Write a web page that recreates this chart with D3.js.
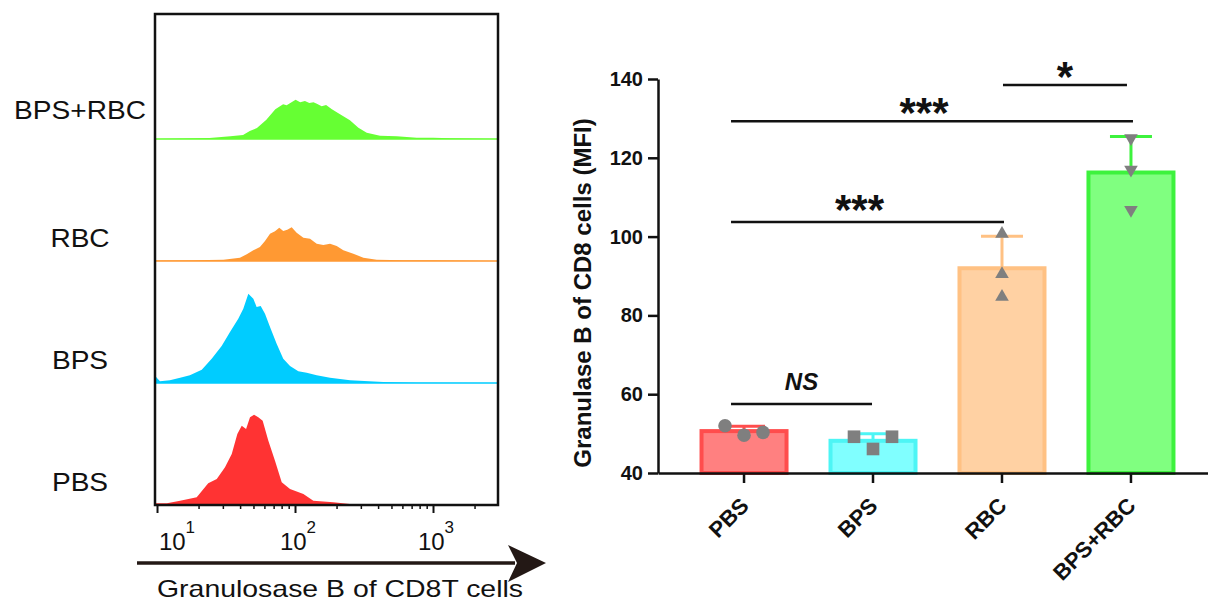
<!DOCTYPE html>
<html>
<head>
<meta charset="utf-8">
<script src="https://cdn.jsdelivr.net/npm/d3@7"></script>
<style>
  body { margin: 0; background: #fff; }
  svg { display: block; font-family: "Liberation Sans", Arial, sans-serif; }
</style>
</head>
<body>
<svg id="chart" width="1208" height="603"></svg>
<script>
// ---- left panel: flow histograms (intensity, relative count) ----
const histGroups = ["BPS+RBC", "RBC", "BPS", "PBS"];
const histColors = ["#66ff33", "#ff9933", "#00ccff", "#ff3333"];

const comboInt = [9.7, 24, 34, 42, 47, 53, 62, 72, 82, 87, 95, 101, 109, 118, 127, 136, 144, 156, 168, 185, 212, 250, 288, 331, 413, 546, 762, 1005, 1327, 2897];
const comboCnt = [0, 1, 2.7, 4, 8, 11, 19.3, 29.7, 34.7, 33.7, 37, 39.3, 36.7, 38, 36, 36.7, 35.3, 32.7, 34, 29.7, 24.7, 18.7, 11.3, 6.3, 3.3, 2.7, 1.3, 1.3, 0.7, 0];

const rbcInt = [9.7, 18.3, 30.3, 39.9, 44.7, 49.9, 55.7, 60.6, 65.9, 71.6, 76.9, 82.2, 87.9, 94.6, 102.8, 115, 128.5, 143.6, 160.4, 179.4, 200.5, 224, 264.7, 312.8, 390.6, 610, 1005, 2897];
const rbcCnt = [0.5, 0.7, 1.3, 3.3, 6.7, 10.7, 14, 20, 27.3, 29.7, 33.3, 30, 31.3, 33.7, 28.3, 23.3, 22.3, 17.3, 16, 17.3, 15, 10.7, 7.3, 3.3, 1.3, 0.7, 0.7, 0];

const bpsInt = [9.7, 10.5, 12.4, 14.7, 17.3, 21.1, 24.9, 29.4, 33.8, 38.8, 42.2, 45.9, 49.9, 52.7, 56.4, 60.6, 65.9, 73.6, 82.2, 92, 105.7, 121.6, 143.6, 179.4, 250.6, 436, 762, 2897];
const bpsCnt = [7, 1.7, 2.7, 5.3, 7.7, 13.3, 24.3, 37, 51, 64.3, 74.3, 89.3, 84.3, 76, 77, 69.3, 56, 39.3, 24.3, 17, 11.7, 10.3, 7.7, 5.3, 2.7, 1, 0.3, 0];

const pbsInt = [9.7, 11.8, 14.7, 19.4, 23.5, 27.1, 31.1, 34.8, 38.2, 41.1, 44.2, 47.2, 50.5, 54.2, 58.3, 64.1, 71.6, 80.1, 92, 115, 135.8, 189.7, 280, 2897];
const pbsCnt = [1.7, 1.7, 4.3, 7.7, 21.7, 26, 37.7, 51, 71, 79.3, 76, 87.7, 90.3, 87.7, 84.3, 64.3, 44.3, 22.7, 16, 11, 4.3, 2.7, 0.3, 0];

const histInt = [comboInt, rbcInt, bpsInt, pbsInt];
const histCnt = [comboCnt, rbcCnt, bpsCnt, pbsCnt];
const majorTicks = [10, 100, 1000];

// ---- right panel: bar chart ----
const groups = ["PBS", "BPS", "RBC", "BPS+RBC"];
const pbsVals = [52.0, 49.6, 50.3];
const bpsVals = [49.2, 46.1, 49.2];
const rbcVals = [100.7, 90.5, 84.7];
const comboVals = [125.0, 117.0, 106.8];
const groupVals = [pbsVals, bpsVals, rbcVals, comboVals];
const yTicks = [40, 60, 80, 100, 120, 140];

const sigFrom = ["PBS", "PBS", "PBS", "RBC"];
const sigTo = ["BPS", "RBC", "BPS+RBC", "BPS+RBC"];
const sigLevel = [57.5, 103.7, 129.3, 138.5];
const sigText = ["NS", "***", "***", "*"];

const barFill = ["#ff8080", "#80ffff", "#ffd1a3", "#80ff80"];
const barStroke = ["#ff4d4d", "#4df5f5", "#ffc183", "#3df23d"];
const symbols = [d3.symbolCircle, d3.symbolSquare, d3.symbolTriangle, d3.symbolTriangle];

const svg = d3.select("#chart");

// ================= left panel =================
const box = {left: 155, right: 498, top: 14, bottom: 505};
const x = d3.scaleLog().domain([9.67, 2958]).range([box.left, box.right]);
const row = d3.scaleBand().domain(histGroups).range([17, box.bottom]);
const h = d3.scaleLinear().domain([0, 100]).range([0, 100]);

svg.append("clipPath").attr("id", "boxclip")
  .append("rect")
  .attr("x", box.left).attr("y", box.top)
  .attr("width", box.right - box.left).attr("height", box.bottom - box.top);

const hg = svg.append("g").attr("clip-path", "url(#boxclip)");

histGroups.forEach(function(g, i) {
  let base = row(g) + row.bandwidth();
  let pts = histInt[i].map((v, k) => ({v: v, c: histCnt[i][k]}));
  let area = d3.area()
    .x(d => x(d.v))
    .y0(base)
    .y1(d => base - h(d.c));

  hg.append("line")
    .attr("x1", box.left).attr("x2", box.right)
    .attr("y1", base).attr("y2", base)
    .attr("stroke", histColors[i]).attr("stroke-width", 1.5);

  hg.append("path")
    .datum(pts)
    .attr("fill", histColors[i])
    .attr("d", area);

  svg.append("text")
    .attr("transform", "translate(80," + (base - (i === 0 ? 20 : 14)) + ") scale(1.08,1)")
    .attr("text-anchor", "middle")
    .attr("font-size", 26)
    .attr("fill", "#111")
    .text(g);
});

svg.append("rect")
  .attr("x", box.left).attr("y", box.top)
  .attr("width", box.right - box.left).attr("height", box.bottom - box.top)
  .attr("fill", "none").attr("stroke", "#111").attr("stroke-width", 2.5);

// log ticks
let minorTicks = x.ticks().filter(v => majorTicks.indexOf(v) < 0 && v > 10);
svg.append("g")
  .attr("transform", "translate(0," + box.bottom + ")")
  .call(d3.axisBottom(x).tickValues(minorTicks).tickSize(4).tickFormat(""))
  .call(g => g.select(".domain").remove())
  .selectAll("line").attr("stroke", "#111").attr("stroke-width", 1.5);
svg.append("g")
  .attr("transform", "translate(0," + box.bottom + ")")
  .call(d3.axisBottom(x).tickValues(majorTicks).tickSize(8).tickFormat(""))
  .call(g => g.select(".domain").remove())
  .selectAll("line").attr("stroke", "#111").attr("stroke-width", 2);

majorTicks.forEach(function(v) {
  let lx = Math.max(x(v) + 3, box.left + 22);
  let t = svg.append("text")
    .attr("x", lx).attr("y", 550)
    .attr("text-anchor", "middle")
    .attr("font-size", 24)
    .attr("fill", "#111");
  t.append("tspan").text("10");
  t.append("tspan").attr("dy", -17).attr("font-size", 17).text(String(Math.round(Math.log10(v))));
});

// arrow + axis title
svg.append("line")
  .attr("x1", 137).attr("x2", 515).attr("y1", 563).attr("y2", 563)
  .attr("stroke", "#231815").attr("stroke-width", 3.5);
svg.append("path")
  .attr("d", "M546,563 L508,545 L517,563 L508,582 Z")
  .attr("fill", "#231815");
svg.append("text")
  .attr("x", 157).attr("y", 597)
  .attr("font-size", 24)
  .attr("textLength", 366).attr("lengthAdjust", "spacingAndGlyphs")
  .attr("fill", "#111")
  .text("Granulosase B of CD8T cells");

// ================= right panel =================
const xb = d3.scaleBand().domain(groups).range([658, 1217]).paddingInner(0.31).paddingOuter(0.322);
const y = d3.scaleLinear().domain([40, 140]).range([473, 79]);
const bw = xb.bandwidth();

const means = groupVals.map(v => d3.mean(v));
const sds = groupVals.map(v => d3.deviation(v));

// bars
svg.append("g").selectAll("rect")
  .data(groups)
  .join("rect")
  .attr("x", d => xb(d) + 2)
  .attr("width", bw - 4)
  .attr("y", (d, i) => y(means[i]))
  .attr("height", (d, i) => y(40) - y(means[i]))
  .attr("fill", (d, i) => barFill[i])
  .attr("stroke", (d, i) => barStroke[i])
  .attr("stroke-width", 4);

// error bars (mean + SD)
groups.forEach(function(g, i) {
  let cx = xb(g) + bw / 2;
  let top = y(means[i] + sds[i]);
  svg.append("line")
    .attr("x1", cx).attr("x2", cx).attr("y1", y(means[i])).attr("y2", top)
    .attr("stroke", barStroke[i]).attr("stroke-width", 3);
  svg.append("line")
    .attr("x1", cx - 21).attr("x2", cx + 21).attr("y1", top).attr("y2", top)
    .attr("stroke", barStroke[i]).attr("stroke-width", 3);
});

// points: spread sideways only when they would overlap
groups.forEach(function(g, i) {
  let vals = groupVals[i];
  let py = vals.map(v => y(v));
  let crowded = false;
  for (let a = 0; a < py.length; a++)
    for (let b = a + 1; b < py.length; b++)
      if (Math.abs(py[a] - py[b]) < 14) crowded = true;
  let cx = xb(g) + bw / 2;
  let sym = d3.symbol().type(symbols[i]).size(i >= 2 ? 80 : (i === 1 ? 160 : 145));
  svg.append("g").selectAll("path")
    .data(vals)
    .join("path")
    .attr("d", sym)
    .attr("transform", (v, k) => "translate(" + (cx + (crowded ? (k - 1) * 19 : 0)) + "," + y(v) + ")" + (i === 3 ? " rotate(180)" : ""))
    .attr("fill", "#7f7f7f");
});

// axes
const yAxis = svg.append("g")
  .attr("transform", "translate(658,0)")
  .call(d3.axisLeft(y).tickValues(yTicks).tickSize(10).tickSizeOuter(0).tickPadding(5));
yAxis.select(".domain").attr("stroke", "#111").attr("stroke-width", 2.5);
yAxis.selectAll(".tick line").attr("stroke", "#111").attr("stroke-width", 2.5);
yAxis.selectAll(".tick text")
  .attr("font-size", 20).attr("font-weight", "bold").attr("fill", "#111")
  .attr("font-family", "Liberation Sans, Arial, sans-serif");

const xAxis = svg.append("g")
  .attr("transform", "translate(0,473)")
  .call(d3.axisBottom(xb).tickSize(10).tickSizeOuter(0).tickFormat(""));
xAxis.select(".domain").attr("stroke", "#111").attr("stroke-width", 2.5);
xAxis.selectAll(".tick line").attr("stroke", "#111").attr("stroke-width", 2.5);

svg.append("g").selectAll("text")
  .data(groups)
  .join("text")
  .attr("transform", d => "translate(" + (xb(d) + bw / 2 + 6) + ",507) rotate(-45)")
  .attr("text-anchor", "end")
  .attr("font-size", 22).attr("font-weight", "bold").attr("fill", "#111")
  .text(d => d);

svg.append("text")
  .attr("transform", "translate(591,293) rotate(-90)")
  .attr("text-anchor", "middle")
  .attr("font-size", 24).attr("font-weight", "bold").attr("fill", "#111")
  .text("Granulase B of CD8 cells (MFI)");

// significance brackets
sigText.forEach(function(s, i) {
  let x1 = xb(sigFrom[i]) + bw / 2 + (sigFrom[i] === groups[0] ? -13 : 1);
  let x2 = xb(sigTo[i]) + bw / 2 + (sigTo[i] === groups[1] ? -1 : (s === "*" ? -4 : 2));
  let ly = y(sigLevel[i]);
  svg.append("line")
    .attr("x1", x1).attr("x2", x2).attr("y1", ly).attr("y2", ly)
    .attr("stroke", "#111").attr("stroke-width", 2.5);
  let isNS = s === "NS";
  svg.append("text")
    .attr("x", (x1 + x2) / 2 - (s === "***" ? 8 : 0))
    .attr("y", isNS ? ly - 14 : ly + (s === "***" && i === 1 ? 2 : 6))
    .attr("text-anchor", "middle")
    .attr("font-size", isNS ? 24 : 42)
    .attr("font-weight", "bold")
    .attr("font-style", isNS ? "italic" : "normal")
    .attr("fill", "#111")
    .text(s);
});
</script>
</body>
</html>
